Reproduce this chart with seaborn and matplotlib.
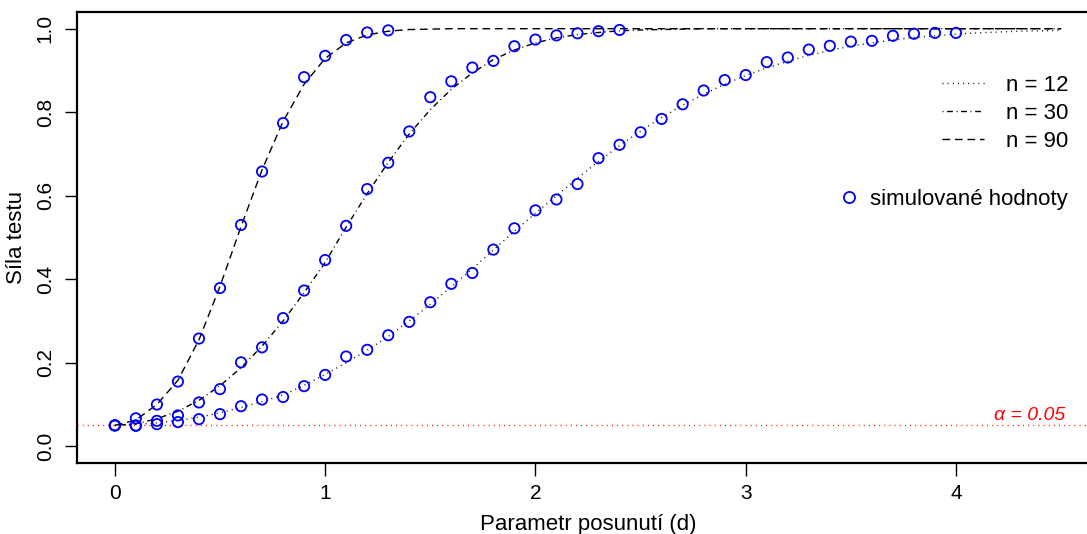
import matplotlib
matplotlib.use("Agg")
import matplotlib.pyplot as plt
from matplotlib.lines import Line2D
import seaborn as sns
import numpy as np

# theoretical power curves (d = 0, 0.1, ..., 4.5)
d_grid = np.round(np.arange(0, 4.51, 0.1), 1)
power_n12 = [0.050, 0.052, 0.056, 0.062, 0.070, 0.080, 0.093, 0.107, 0.123, 0.146,
             0.172, 0.200, 0.230, 0.263, 0.300, 0.340, 0.382, 0.425, 0.470, 0.515,
             0.558, 0.600, 0.642, 0.682, 0.720, 0.755, 0.787, 0.817, 0.843, 0.867,
             0.888, 0.906, 0.922, 0.936, 0.948, 0.958, 0.966, 0.973, 0.979, 0.983,
             0.987, 0.990, 0.992, 0.994, 0.995, 0.996]
power_n30 = [0.050, 0.054, 0.066, 0.084, 0.110, 0.145, 0.188, 0.240, 0.300, 0.368,
             0.440, 0.525, 0.605, 0.680, 0.748, 0.806, 0.855, 0.894, 0.926, 0.949,
             0.966, 0.978, 0.986, 0.991, 0.995, 0.997, 0.998, 0.999, 1.0, 1.0,
             1.0, 1.0, 1.0, 1.0, 1.0, 1.0, 1.0, 1.0, 1.0, 1.0,
             1.0, 1.0, 1.0, 1.0, 1.0, 1.0]
power_n90 = [0.050, 0.063, 0.100, 0.158, 0.255, 0.383, 0.526, 0.662, 0.778, 0.867,
             0.929, 0.966, 0.985, 0.994, 0.998, 0.999, 1.0, 1.0, 1.0, 1.0,
             1.0, 1.0, 1.0, 1.0, 1.0, 1.0, 1.0, 1.0, 1.0, 1.0,
             1.0, 1.0, 1.0, 1.0, 1.0, 1.0, 1.0, 1.0, 1.0, 1.0,
             1.0, 1.0, 1.0, 1.0, 1.0, 1.0]

# simulated values
sim_n12 = [0.050, 0.050, 0.053, 0.058, 0.065, 0.077, 0.096, 0.112, 0.118, 0.144,
           0.171, 0.215, 0.231, 0.266, 0.298, 0.345, 0.389, 0.415, 0.471, 0.522,
           0.565, 0.591, 0.628, 0.690, 0.722, 0.752, 0.784, 0.819, 0.852, 0.877,
           0.889, 0.920, 0.931, 0.950, 0.959, 0.969, 0.971, 0.983, 0.988, 0.990,
           0.990]
sim_n30 = [0.050, 0.049, 0.061, 0.074, 0.105, 0.137, 0.201, 0.237, 0.307, 0.373,
           0.446, 0.528, 0.616, 0.679, 0.754, 0.836, 0.874, 0.907, 0.923, 0.958,
           0.974, 0.984, 0.989, 0.994, 0.997]
sim_n90 = [0.050, 0.067, 0.100, 0.155, 0.258, 0.379, 0.530, 0.658, 0.774, 0.884,
           0.935, 0.973, 0.991, 0.996]

labels = ["n = 12", "n = 30", "n = 90"]
alpha = 0.05

sns.set_style("ticks")
plt.rcParams["font.family"] = ["Liberation Sans", "DejaVu Sans"]
plt.rcParams["text.color"] = "black"
plt.rcParams["axes.labelcolor"] = "black"
plt.rcParams["xtick.color"] = "black"
plt.rcParams["ytick.color"] = "black"

fig = plt.figure(figsize=(10.87, 5.34), dpi=100)
ax = fig.add_axes([77 / 1087, 71 / 534, 1022 / 1087, 451 / 534])

styles = [(0, (0.7, 3.0)), (0, (0.7, 2.6, 4.2, 2.6)), (0, (5.5, 3.5))]
curves = [power_n12, power_n30, power_n90]
sims = [sim_n12, sim_n30, sim_n90]

ax.axhline(alpha, color="red", linestyle=(0, (0.7, 3.0)), linewidth=1.0, zorder=1)

for yv, ls in zip(curves, styles):
    sns.lineplot(x=d_grid, y=yv, ax=ax, color="black", linewidth=1.0,
                 linestyle=ls, legend=False, zorder=2)

for yv in sims:
    dd = d_grid[:len(yv)]
    sns.scatterplot(x=dd, y=yv, ax=ax, marker="o", s=55, color="blue",
                    linewidth=1.3, legend=False, zorder=3)
for coll in ax.collections:
    coll.set_facecolor("none")
    coll.set_edgecolor("blue")

ax.set_xlim(-0.18, 4.68)
ax.set_ylim(-0.04, 1.04)
ax.set_xticks([0, 1, 2, 3, 4])
ax.set_yticks([0.0, 0.2, 0.4, 0.6, 0.8, 1.0])
ax.set_xticklabels(["0", "1", "2", "3", "4"])
ax.set_yticklabels(["0.0", "0.2", "0.4", "0.6", "0.8", "1.0"], rotation=90, va="center")
ax.tick_params(axis="both", length=9, width=1.0, labelsize=15, color="black")
ax.tick_params(axis="x", pad=6)
ax.tick_params(axis="y", pad=7)
for sp in ax.spines.values():
    sp.set_visible(True)
    sp.set_linewidth(1.6)
    sp.set_color("black")

ax.set_xlabel("Parametr posunutí (d)", fontsize=16, labelpad=8)
ax.set_ylabel("Síla testu", fontsize=16, labelpad=6)

ax.text(4.52, 0.0634, "α = 0.05", color="red", fontsize=14, fontstyle="italic",
        ha="right", va="baseline")

line_handles = [Line2D([], [], color="black", linewidth=1.0, linestyle=ls) for ls in styles]
leg1 = ax.legend(line_handles, labels, loc="upper right", frameon=False, fontsize=16,
                 bbox_to_anchor=(1068 / 1087, 1 - 75 / 534), bbox_transform=fig.transFigure,
                 borderpad=0, borderaxespad=0, handlelength=1.9, handletextpad=0.95,
                 labelspacing=0.32)
ax.add_artist(leg1)
pt_handle = Line2D([], [], color="blue", marker="o", markersize=8, markerfacecolor="none",
                   markeredgewidth=1.3, linestyle="none")
ax.legend([pt_handle], ["simulované hodnoty"], loc="upper right", frameon=False, fontsize=16,
          bbox_to_anchor=(1068 / 1087, 1 - 189 / 534), bbox_transform=fig.transFigure,
          borderpad=0, borderaxespad=0, handlelength=1.0, handletextpad=0.45)

fig.savefig("out.png", dpi=100)
